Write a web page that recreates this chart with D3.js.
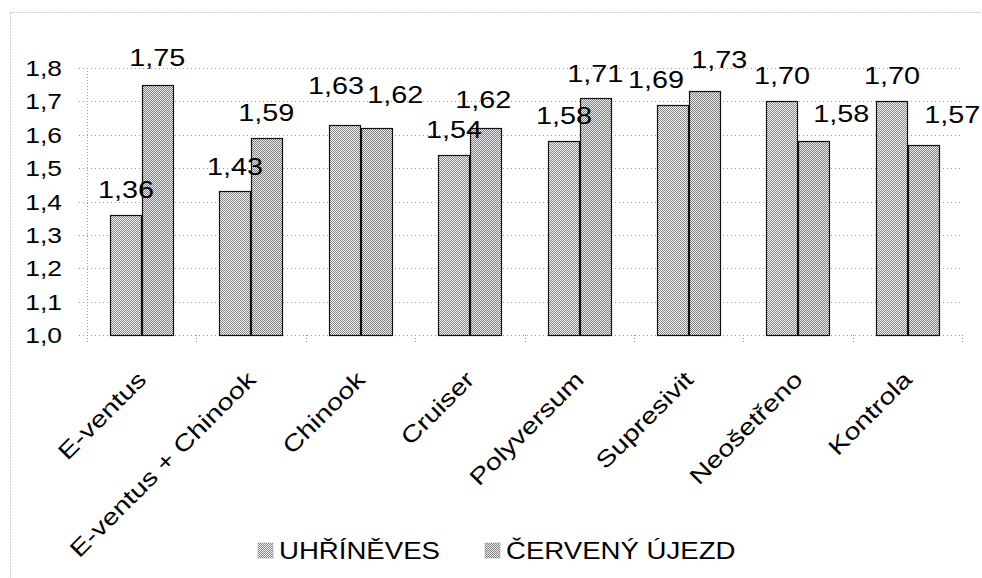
<!DOCTYPE html>
<html>
<head>
<meta charset="utf-8">
<script src="https://cdn.jsdelivr.net/npm/d3@7"></script>
<style>
  html, body { margin: 0; padding: 0; background: #fff; }
  svg { display: block; font-family: "Liberation Sans", Arial, sans-serif; }
</style>
</head>
<body>
<svg id="chart" width="982" height="578"></svg>
<script>
'use strict'

const categories = ['E-ventus', 'E-ventus + Chinook', 'Chinook', 'Cruiser', 'Polyversum', 'Supresivit', 'Neošetřeno', 'Kontrola']
const seriesNames = ['UHŘÍNĚVES', 'ČERVENÝ ÚJEZD']
const uhrineves = [1.36, 1.43, 1.63, 1.54, 1.58, 1.69, 1.70, 1.70]
const cervenyUjezd = [1.75, 1.59, 1.62, 1.62, 1.71, 1.73, 1.58, 1.57]
const yTicks = [1.0, 1.1, 1.2, 1.3, 1.4, 1.5, 1.6, 1.7, 1.8]

// the data labels were dragged by hand in the original, these are the nudges [dx, dy]
const labelNudges = [
  [[0, 0], [0, -2]],
  [[0, 1], [0, 0]],
  [[-9, -14], [19, -8]],
  [[0, 0], [-2, -3]],
  [[0, 0], [0, 1]],
  [[-17, 0], [15, -6]],
  [[0, 0], [28, -2]],
  [[0, 0], [29, -5]]
]

const fmt = v => d3.format('.2f')(v).replace('.', ',')
const STRETCH = 1.2 // text in the picture is wider than plain Arial
const ROT_STRETCH = 1.25

const svg = d3.select('#chart')
const margin = { left: 87, right: 20, top: 68, bottom: 243 }
const width = 962 - margin.left
const height = 335 - margin.top

// halftone fills for the bars
const defs = svg.append('defs')
const fills = [['#858585', '#f4f4f4'], ['#7e7e7e', '#eeeeee']]
fills.forEach((c, i) => {
  const p = defs.append('pattern')
    .attr('id', `dots${i}`)
    .attr('width', 2).attr('height', 2)
    .attr('patternUnits', 'userSpaceOnUse')
  p.append('rect').attr('width', 2).attr('height', 2).attr('fill', c[1])
  p.append('rect').attr('width', 1).attr('height', 1).attr('fill', c[0])
  p.append('rect').attr('x', 1).attr('y', 1).attr('width', 1).attr('height', 1).attr('fill', c[0])
})

// chart area border
svg.append('rect')
  .attr('x', 10.5).attr('y', 12.5)
  .attr('width', 1000).attr('height', 600)
  .attr('fill', 'none')
  .attr('stroke', '#9a9a9a')
  .attr('stroke-dasharray', '1,2')

const g = svg.append('g').attr('transform', `translate(${margin.left},${margin.top})`)

const x0 = d3.scaleBand().domain(categories).range([0, width]).paddingInner(0).paddingOuter(0)
const barW = x0.bandwidth() / 3.5
const x1 = d3.scaleBand().domain(seriesNames).range([0.75 * barW, 2.75 * barW])
const y = d3.scaleLinear().domain([1.0, 1.8]).range([height, 0])

// gridlines
g.append('g')
  .selectAll('line')
  .data(yTicks)
  .join('line')
  .attr('x1', -8).attr('x2', width)
  .attr('y1', d => Math.round(y(d)) + 0.5)
  .attr('y2', d => Math.round(y(d)) + 0.5)
  .attr('stroke', '#9a9a9a')
  .attr('stroke-dasharray', '1,3')

// y axis line
g.append('line')
  .attr('x1', 0.5).attr('x2', 0.5)
  .attr('y1', 0).attr('y2', height)
  .attr('stroke', '#9a9a9a')
  .attr('stroke-dasharray', '1,2')

// category boundary ticks
g.append('g')
  .selectAll('line')
  .data(d3.range(categories.length + 1))
  .join('line')
  .attr('x1', i => Math.round(i * x0.bandwidth()) + 0.5)
  .attr('x2', i => Math.round(i * x0.bandwidth()) + 0.5)
  .attr('y1', height).attr('y2', height + 9)
  .attr('stroke', '#9a9a9a')
  .attr('stroke-dasharray', '1,2')

// y tick labels
g.append('g')
  .selectAll('g')
  .data(yTicks)
  .join('g')
  .attr('transform', d => `translate(-25,${y(d) + 8}) scale(${STRETCH},1)`)
  .append('text')
  .attr('text-anchor', 'end')
  .attr('font-size', 22)
  .attr('fill', '#000')
  .text(d => fmt(d).slice(0, 3))

// bars
const rows = categories.map((c, i) => ({ cat: c, i, values: [uhrineves[i], cervenyUjezd[i]] }))

const groups = g.append('g')
  .selectAll('g')
  .data(rows)
  .join('g')
  .attr('transform', d => `translate(${Math.round(x0(d.cat))},0)`)

groups.selectAll('rect')
  .data(d => d.values.map((v, s) => ({ v, s, i: d.i })))
  .join('rect')
  .attr('x', d => Math.round(x1(seriesNames[d.s])) + 0.5)
  .attr('y', d => Math.round(y(d.v)) + 0.5)
  .attr('width', Math.round(x1.bandwidth()))
  .attr('height', d => height - Math.round(y(d.v)))
  .attr('fill', d => `url(#dots${d.s})`)
  .attr('stroke', '#111')
  .attr('stroke-width', 1.2)

// value labels
groups.selectAll('g.val')
  .data(d => d.values.map((v, s) => ({ v, s, i: d.i })))
  .join('g')
  .attr('class', 'val')
  .attr('transform', d => {
    const n = labelNudges[d.i][d.s]
    const cx = x1(seriesNames[d.s]) + x1.bandwidth() / 2 + n[0]
    return `translate(${cx},${y(d.v) - 17 + n[1]}) scale(${STRETCH},1)`
  })
  .append('text')
  .attr('text-anchor', 'middle')
  .attr('font-size', 24)
  .attr('fill', '#000')
  .text(d => fmt(d.v))

// rotated category labels
g.append('g')
  .selectAll('text')
  .data(categories)
  .join('text')
  .attr('transform', d => `translate(${x0(d) + x0.bandwidth() / 2 + 6},${height + 46}) rotate(-45) scale(${ROT_STRETCH},1)`)
  .attr('text-anchor', 'end')
  .attr('font-size', 23)
  .attr('fill', '#000')
  .text(d => d)

// legend
const legend = svg.append('g').attr('transform', 'translate(258,543)')
const legendX = [0, 227]
seriesNames.forEach((name, s) => {
  const item = legend.append('g').attr('transform', `translate(${legendX[s]},0)`)
  item.append('rect')
    .attr('width', 15).attr('height', 15)
    .attr('fill', `url(#dots${s})`)
    .attr('stroke', '#999')
    .attr('stroke-width', 0.5)
  item.append('g')
    .attr('transform', `translate(21,16) scale(${STRETCH},1)`)
    .append('text')
    .attr('font-size', 23)
    .attr('fill', '#000')
    .text(name)
})
</script>
</body>
</html>
